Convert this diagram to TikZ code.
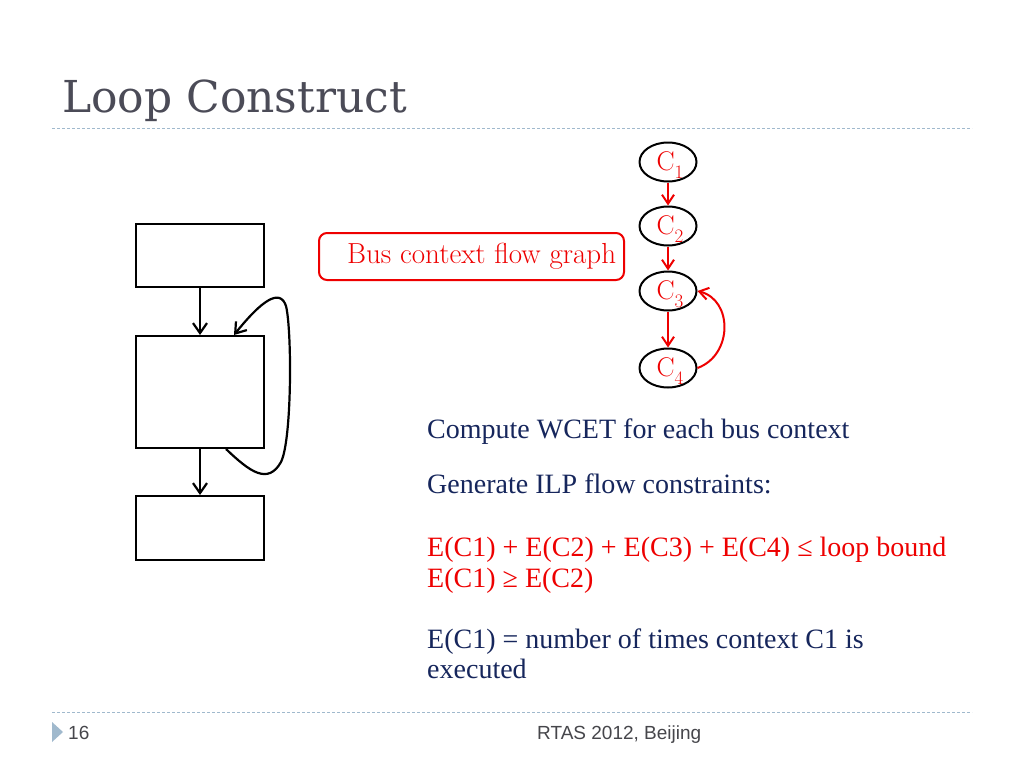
\documentclass[tikz,border=0pt]{standalone}
\usepackage{fontspec}
\usetikzlibrary{arrows.meta,shapes.geometric}
\newfontfamily\bodyfont{Liberation Serif}
\newfontfamily\titlefont{DejaVu Serif}
\newfontfamily\footfont{Liberation Sans}
\definecolor{navy}{RGB}{22,38,92}
\definecolor{redc}{RGB}{238,0,0}
\definecolor{titlegray}{RGB}{75,75,87}
\definecolor{dashblue}{RGB}{160,185,205}
\definecolor{footgray}{RGB}{70,70,75}
\tikzset{
  blk/.style={draw=black, line width=2pt, minimum width=128pt, inner sep=0pt},
  ctx/.style={ellipse, draw=black, line width=2pt, minimum width=57pt, minimum height=39pt, inner sep=0pt},
  ctxtext/.style={text=redc, font=\fontsize{27}{27}\selectfont, inner sep=0pt, yshift=-3pt, xshift=2pt},
  blkarrow/.style={draw=black, line width=2.2pt, -{Straight Barb[length=10pt,width=14pt]}},
  redarrow/.style={draw=redc, line width=2pt, -{Straight Barb[length=9pt,width=12pt]}},
  bodytext/.style={anchor=base west, inner sep=0pt, text=navy, font=\bodyfont\fontsize{28}{32}\selectfont},
  redtext/.style={bodytext, text=redc},
  sepline/.style={draw=dashblue, line width=1pt, dash pattern=on 3pt off 2pt},
}
\newcommand{\ctxlab}[1]{C\raisebox{-8pt}{\fontsize{19}{19}\selectfont #1}}
\begin{document}
\begin{tikzpicture}[x=1pt, y=-1pt]
\useasboundingbox (0,0) rectangle (1024,768);
\fill[white] (0,0) rectangle (1024,768);
% title
\node[anchor=base west, inner sep=0pt, text=titlegray, font=\titlefont\fontsize{44}{44}\selectfont] (title) at (62,112) {Loop Construct};
\coordinate (tl1) at (52,128);
\coordinate (tl2) at (972,128);
\draw[sepline] (tl1) -- (tl2);
% footer
\coordinate (bl1) at (52,712);
\coordinate (bl2) at (972,712);
\draw[sepline] (bl1) -- (bl2);
\fill[dashblue] (52,722) -- (63,732) -- (52,742) -- cycle;
\node[anchor=base west, inner sep=0pt, text=footgray, font=\footfont\fontsize{19}{19}\selectfont] (pnum) at (68,739) {16};
\node[anchor=base west, inner sep=0pt, text=footgray, font=\footfont\fontsize{19}{19}\selectfont] (venue) at (537,739) {RTAS 2012, Beijing};
% left CFG
\node[blk, minimum height=63pt] (box1) at (200,255.5) {};
\node[blk, minimum height=112pt] (box2) at (200,392) {};
\node[blk, minimum height=64pt] (box3) at (200,528) {};
\draw[blkarrow] (box1.south) -- (box2.north);
\draw[blkarrow] (box2.south) -- (box3.north);
\draw[blkarrow] ([xshift=-39pt]box2.south east) .. controls (250,472) and (268,485) .. (281,462)
  .. controls (292,440) and (292,330) .. (286,306)
  .. controls (280,288) and (262,300) .. ([xshift=-31pt]box2.north east);
% bus context label
\node[draw=redc, line width=2pt, rounded corners=8pt, minimum width=305pt, minimum height=47pt, inner sep=0pt] (bus) at (471.5,256.5) {};
\node[anchor=base west, inner sep=0pt, text=redc, font=\fontsize{29}{29}\selectfont] (buslab) at (347,263) {Bus context flow graph};
% context flow graph
\node[ctx] (c1) at (668,162) {};
\node[ctx] (c2) at (668,226) {};
\node[ctx] (c3) at (668,291) {};
\node[ctx] (c4) at (668,368) {};
\node[ctxtext] (l1) at (c1.center) {\ctxlab{1}};
\node[ctxtext] (l2) at (c2.center) {\ctxlab{2}};
\node[ctxtext] (l3) at (c3.center) {\ctxlab{3}};
\node[ctxtext] (l4) at (c4.center) {\ctxlab{4}};
\draw[redarrow] (c1) -- (c2);
\draw[redarrow] (c2) -- (c3);
\draw[redarrow] (c3) -- (c4);
\draw[redarrow] (c4.east) .. controls (733,355) and (733,300) .. (c3.east);
% text
\node[bodytext] (t1) at (427,438) {Compute WCET for each bus context};
\node[bodytext] (t2) at (427,493) {Generate ILP flow constraints:};
\node[redtext] (t3) at (427,556) {E(C1) + E(C2) + E(C3) + E(C4) ≤ loop bound};
\node[redtext] (t4) at (427,587) {E(C1) ≥ E(C2)};
\node[bodytext] (t5) at (427,648) {E(C1) = number of times context C1 is};
\node[bodytext] (t6) at (427,678) {executed};
\end{tikzpicture}
\end{document}
